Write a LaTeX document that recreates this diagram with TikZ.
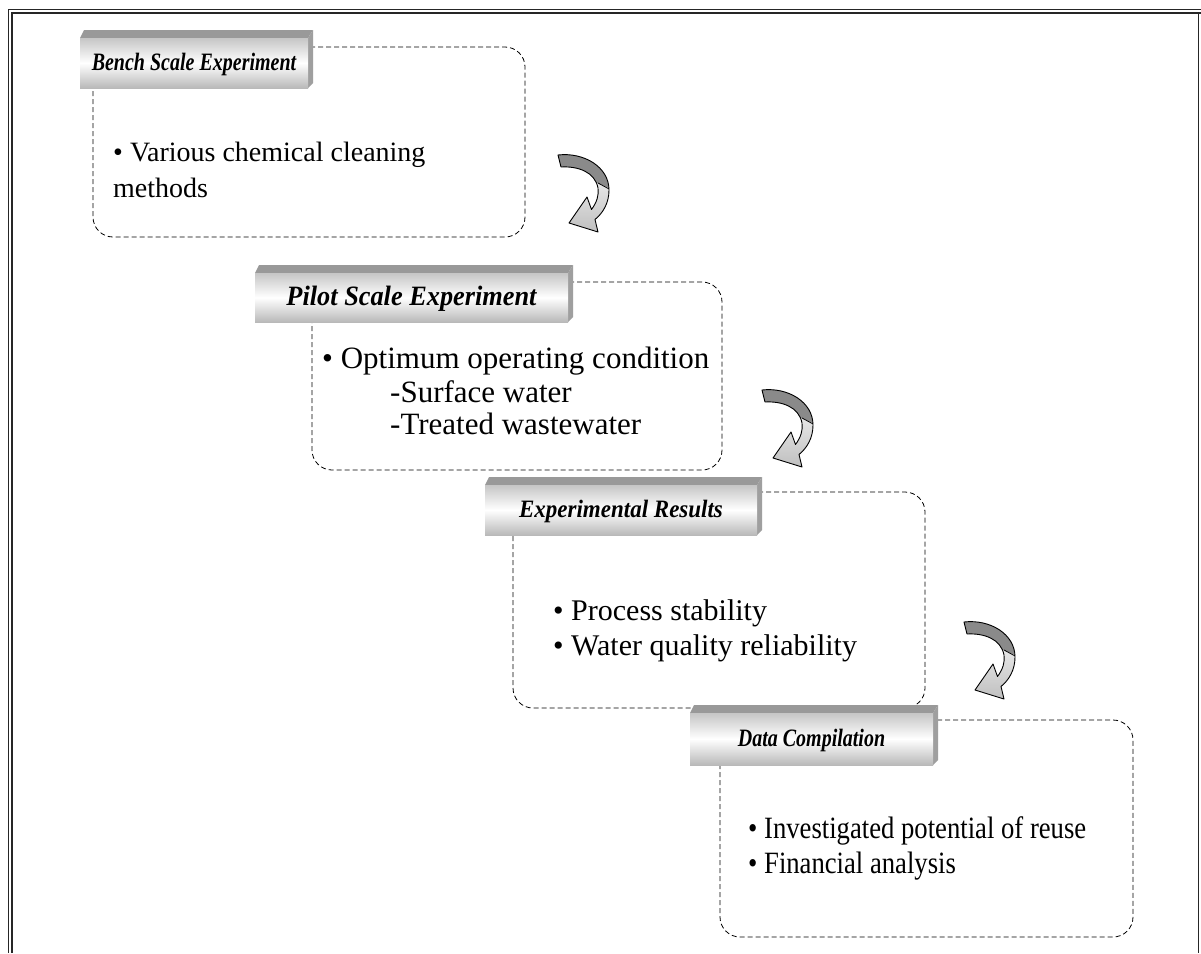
\documentclass[tikz,border=0pt]{standalone}
\usepackage{fontspec}
\setmainfont{Liberation Serif}
\begin{document}
\begin{tikzpicture}[x=1pt,y=-1pt,
  frameline/.style={line width=1.6pt, black!85},
  dashbox/.style={draw, line width=0.8pt, dash pattern=on 5pt off 3pt, rounded corners=20pt},
  topface/.style={fill=gray!80},
  sideface/.style={fill=gray!75},
  hdrtext/.style={font=\fontsize{#1}{#1}\selectfont\bfseries\itshape, inner sep=0pt},
  bodytext/.style={font=\fontsize{#1}{#1}\selectfont, anchor=base west, inner sep=0pt},
  curvarrow/.pic={
    \shade[top color=white, bottom color=gray!50]
      (0,0) .. controls (26,-3) and (51,12) .. (51,35) .. controls (51,48) and (45,58) .. (37,64.5)
      -- (40,77) -- (11,68) -- (29,42) -- (33.5,54.5)
      .. controls (39,47) and (41,40) .. (40,33) .. controls (37,17) and (20,11) .. (3,12) -- cycle;
    \begin{scope}
      \clip (0,0) .. controls (26,-3) and (51,12) .. (51,35) .. controls (51,48) and (45,58) .. (37,64.5)
        -- (40,77) -- (11,68) -- (29,42) -- (33.5,54.5)
        .. controls (39,47) and (41,40) .. (40,33) .. controls (37,17) and (20,11) .. (3,12) -- cycle;
      \fill[gray!85!black!80] (-5,-10) -- (60,-10) -- (60,37) -- (40,28) -- (-5,28) -- cycle;
      \draw[line width=0.8pt] (40,28) -- (53,35);
    \end{scope}
    \draw[line width=0.9pt, line join=round]
      (0,0) .. controls (26,-3) and (51,12) .. (51,35) .. controls (51,48) and (45,58) .. (37,64.5)
      -- (40,77) -- (11,68) -- (29,42) -- (33.5,54.5)
      .. controls (39,47) and (41,40) .. (40,33) .. controls (37,17) and (20,11) .. (3,12) -- cycle;
  }
]
\useasboundingbox (0,0) rectangle (1201,953);
\fill[white] (0,0) rectangle (1201,953);

% outer frame
\draw[frameline] (8.5,953) -- (8.5,9.5) -- (1201,9.5);
\draw[frameline] (12,953) -- (12,13) -- (1201,13);
\draw[frameline] (1198.5,13) -- (1198.5,953);

% header macro: name, x0, y0, x1, y1, text, font size, horizontal scale
\newcommand\hdrbox[8]{%
  \fill[topface] (#2,#3) -- (#2+4,#3-8) -- (#4+5,#3-8) -- (#4,#3) -- cycle;
  \fill[sideface] (#4,#3) -- (#4+5,#3-8) -- (#4+5,#5-5) -- (#4,#5) -- cycle;
  \shade[top color=gray!45, bottom color=gray!55, middle color=white] (#2,#3) rectangle (#4,#5);
  \node[hdrtext=#7, xscale=#8] (#1) at ({(#2+#4)/2},{(#3+#5)/2+1}) {#6};
}

% Box 1
\draw[dashbox] (93,47) rectangle (525,237);
\hdrbox{h1}{80}{38}{308}{88}{Bench Scale Experiment}{25}{0.8}
\node[bodytext=28] (t1a) at (113,161) {\textbullet\ Various chemical cleaning};
\node[bodytext=28] (t1b) at (113,197) {methods};

% Box 2
\draw[dashbox] (312,282) rectangle (722,470);
\hdrbox{h2}{255}{273}{568}{322}{Pilot Scale Experiment}{28}{0.94}
\node[bodytext=31] (t2a) at (322,368) {\textbullet\ Optimum operating condition};
\node[bodytext=31] (t2b) at (390,402) {-Surface water};
\node[bodytext=31] (t2c) at (390,434) {-Treated wastewater};

% Box 3
\draw[dashbox] (513,492) rectangle (925,708);
\hdrbox{h3}{485}{485}{757}{535}{Experimental Results}{25}{0.92}
\node[bodytext=30] (t3a) at (553,620) {\textbullet\ Process stability};
\node[bodytext=30] (t3b) at (553,655) {\textbullet\ Water quality reliability};

% Box 4
\draw[dashbox] (720,720) rectangle (1133,937);
\hdrbox{h4}{690}{713}{933}{765}{Data Compilation}{25}{0.8}
\node[bodytext=31, xscale=0.86] (t4a) at (748,838) {\textbullet\ Investigated potential of reuse};
\node[bodytext=31, xscale=0.86] (t4b) at (748,873) {\textbullet\ Financial analysis};

% arrows
\pic (a1) at (558,155) {curvarrow};
\pic (a2) at (762,390) {curvarrow};
\pic (a3) at (964,622) {curvarrow};
\end{tikzpicture}
\end{document}
